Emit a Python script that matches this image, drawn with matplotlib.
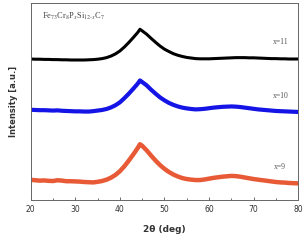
import matplotlib.pyplot as plt
from matplotlib.ticker import MultipleLocator

# 2-theta grid (deg) and intensities (arb. units)
two_theta = [20, 21, 22, 23, 24, 25, 26, 27, 28, 29,
             30, 31, 32, 33, 34, 35, 36, 37, 38, 39,
             40, 41, 42, 43, 44, 44.5, 45, 46, 47, 48, 49,
             50, 51, 52, 53, 54, 55, 56, 57, 58, 59,
             60, 61, 62, 63, 64, 65, 66, 67, 68, 69,
             70, 71, 72, 73, 74, 75, 76, 77, 78, 79, 80]

red_x9 = [10.2, 10.0, 9.8, 9.9, 9.7, 9.6, 10.0, 9.8, 9.5, 9.5,
          9.4, 9.3, 9.1, 9.0, 8.9, 9.2, 9.6, 10.3, 11.3, 12.7,
          14.6, 17.1, 20.0, 23.1, 26.4, 28.3, 27.5, 25.2, 22.5, 20.0, 17.7,
          15.8, 14.2, 12.9, 11.9, 11.1, 10.6, 10.3, 10.1, 10.1, 10.4,
          10.8, 11.2, 11.5, 11.8, 12.0, 12.2, 12.1, 11.8, 11.4, 11.0,
          10.6, 10.3, 10.0, 9.7, 9.4, 9.1, 8.9, 8.8, 8.6, 8.5, 8.4]

blue_x10 = [45.8, 45.7, 45.6, 45.6, 45.5, 45.4, 45.5, 45.3, 45.2, 45.1,
            45.0, 45.0, 44.9, 44.9, 45.1, 45.4, 45.7, 46.2, 47.0, 48.1,
            49.6, 51.7, 54.0, 56.5, 59.1, 60.7, 59.9, 58.2, 56.0, 54.0, 52.1,
            50.6, 49.3, 48.3, 47.5, 46.9, 46.5, 46.2, 46.0, 46.1, 46.3,
            46.6, 46.9, 47.1, 47.3, 47.4, 47.5, 47.4, 47.2, 46.9, 46.6,
            46.3, 46.0, 45.8, 45.6, 45.4, 45.2, 45.1, 45.0, 44.9, 44.8, 44.7]

black_x11 = [71.6, 71.5, 71.5, 71.4, 71.4, 71.3, 71.3, 71.2, 71.2, 71.1,
             71.1, 71.1, 71.1, 71.2, 71.3, 71.5, 71.8, 72.3, 73.1, 74.2,
             75.7, 77.7, 80.0, 82.5, 85.1, 86.7, 85.9, 84.2, 82.1, 80.1, 78.2,
             76.6, 75.4, 74.3, 73.5, 72.9, 72.4, 72.1, 71.8, 71.7, 71.7,
             71.7, 71.8, 71.9, 72.0, 72.1, 72.2, 72.3, 72.3, 72.3, 72.2,
             72.2, 72.1, 72.0, 71.9, 71.8, 71.8, 71.7, 71.7, 71.6, 71.6, 71.6]

series = [(black_x11, "black", 2.2, "x=11", 80),
          (blue_x10, "#1414e6", 3.0, "x=10", 53),
          (red_x9, "#e85a36", 3.2, "x=9", 16.5)]

plt.rcParams['mathtext.fontset'] = 'stix'

fig = plt.figure(figsize=(3.08, 2.4), dpi=100)
ax = fig.add_axes([0.1, 0.167, 0.868, 0.82])

for ys, c, lw, lab, ly in series:
    ax.plot(two_theta, ys, color=c, lw=lw, solid_joinstyle='round')
    ax.text(76, ly, lab, family='Liberation Serif', fontsize=5.5,
            color='#555555', ha='center', va='center')

ax.text(22.5, 93, r"Fe$_{73}$Cr$_{8}$P$_{x}$Si$_{12\text{-}x}$C$_{7}$",
        family='Liberation Serif', fontsize=6, color='#444444',
        ha='left', va='center')

ax.set_xlim(20, 80)
ax.set_ylim(0, 100)
ax.set_yticks([])
ax.xaxis.set_major_locator(MultipleLocator(10))
ax.xaxis.set_minor_locator(MultipleLocator(5))
ax.tick_params(axis='x', which='both', direction='in', labelsize=5.5,
               labelcolor='#333333', color='#555555', width=0.6)
ax.tick_params(axis='x', which='major', length=2.5)
ax.tick_params(axis='x', which='minor', length=1.5)
for s in ax.spines.values():
    s.set_color('#666666')
    s.set_linewidth(0.7)

ax.set_xlabel("2\u03b8 (deg)", fontsize=6.5, fontweight='bold',
              color='#333333', labelpad=8)
ax.set_ylabel("Intensity [a.u.]", fontsize=6, fontweight='bold',
              color='#333333', labelpad=9)

fig.savefig("out.png", dpi=100)
